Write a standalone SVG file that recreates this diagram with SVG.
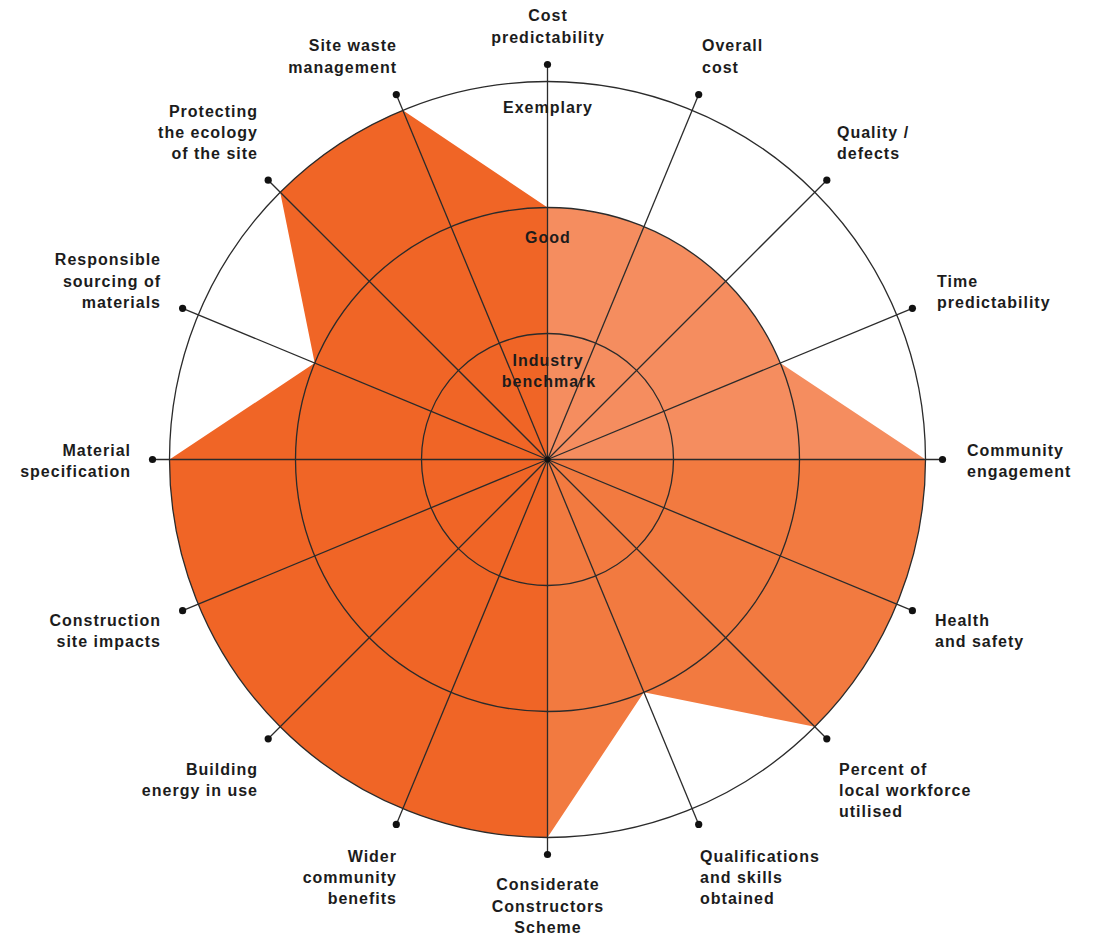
<svg xmlns="http://www.w3.org/2000/svg" width="1097" height="937" viewBox="0 0 1097 937">
<style>
.lbl{font-family:"Liberation Sans",Arial,sans-serif;font-weight:bold;font-size:16px;letter-spacing:1px;fill:#1c1c1c}
.mid{text-anchor:middle}
.end{text-anchor:end}
.ring{fill:none;stroke:#2b2b2b;stroke-width:1.3}
.spoke{stroke:#2b2b2b;stroke-width:1.3}
.dot{fill:#111}
</style>
<rect width="1097" height="937" fill="#ffffff"/>
<g id="fills">
<path d="M547.5,459.5 L547.5,207.5 A252,252 0 0 1 780.3,363.1 L925.5,459.5 Z" fill="#F58D5F"/>
<path d="M547.5,459.5 L925.5,459.5 A378,378 0 0 1 814.8,726.8 L643.9,692.3 L547.5,837.5 Z" fill="#F27A40"/>
<path d="M547.5,459.5 L547.5,837.5 A378,378 0 0 1 169.5,459.5 L314.7,363.1 L280.2,192.2 A378,378 0 0 1 402.8,110.3 L547.5,207.5 Z" fill="#F06526"/>
</g>
<g id="rings">
<circle class="ring" cx="547.5" cy="459.5" r="126"/>
<circle class="ring" cx="547.5" cy="459.5" r="252"/>
<circle class="ring" cx="547.5" cy="459.5" r="378"/>
</g>
<g id="connectors">
<line class="spoke" x1="547.5" y1="459.5" x2="547.5" y2="64.5"/>
<line class="spoke" x1="547.5" y1="459.5" x2="698.7" y2="94.6"/>
<line class="spoke" x1="547.5" y1="459.5" x2="826.8" y2="180.2"/>
<line class="spoke" x1="547.5" y1="459.5" x2="912.4" y2="308.3"/>
<line class="spoke" x1="547.5" y1="459.5" x2="942.5" y2="459.5"/>
<line class="spoke" x1="547.5" y1="459.5" x2="912.4" y2="610.7"/>
<line class="spoke" x1="547.5" y1="459.5" x2="826.8" y2="738.8"/>
<line class="spoke" x1="547.5" y1="459.5" x2="698.7" y2="824.4"/>
<line class="spoke" x1="547.5" y1="459.5" x2="547.5" y2="854.5"/>
<line class="spoke" x1="547.5" y1="459.5" x2="396.3" y2="824.4"/>
<line class="spoke" x1="547.5" y1="459.5" x2="268.2" y2="738.8"/>
<line class="spoke" x1="547.5" y1="459.5" x2="182.6" y2="610.7"/>
<line class="spoke" x1="547.5" y1="459.5" x2="152.5" y2="459.5"/>
<line class="spoke" x1="547.5" y1="459.5" x2="182.6" y2="308.3"/>
<line class="spoke" x1="547.5" y1="459.5" x2="268.2" y2="180.2"/>
<line class="spoke" x1="547.5" y1="459.5" x2="396.3" y2="94.6"/>
<circle class="dot" cx="547.5" cy="459.5" r="3"/>
</g>
<g id="levels">
<text class="lbl mid" x="548" y="113">Exemplary</text>
<text class="lbl mid" x="548" y="243">Good</text>
<text class="lbl mid" x="548" y="366">Industry</text>
<text class="lbl mid" x="549" y="387">benchmark</text>
</g>
<g id="cost-predictability"><circle class="dot" cx="547.5" cy="64.5" r="3.6"/><text class="lbl mid" x="548" y="21">Cost</text><text class="lbl mid" x="548" y="43">predictability</text></g>
<g id="overall-cost"><circle class="dot" cx="698.7" cy="94.6" r="3.6"/><text class="lbl" x="702" y="51">Overall</text><text class="lbl" x="702" y="73">cost</text></g>
<g id="quality-defects"><circle class="dot" cx="826.8" cy="180.2" r="3.6"/><text class="lbl" x="837" y="138">Quality /</text><text class="lbl" x="837" y="159">defects</text></g>
<g id="time-predictability"><circle class="dot" cx="912.4" cy="308.3" r="3.6"/><text class="lbl" x="937" y="287">Time</text><text class="lbl" x="937" y="308">predictability</text></g>
<g id="community-engagement"><circle class="dot" cx="942.5" cy="459.5" r="3.6"/><text class="lbl" x="967" y="456">Community</text><text class="lbl" x="967" y="477">engagement</text></g>
<g id="health-safety"><circle class="dot" cx="912.4" cy="610.7" r="3.6"/><text class="lbl" x="935" y="626">Health</text><text class="lbl" x="935" y="647">and safety</text></g>
<g id="local-workforce"><circle class="dot" cx="826.8" cy="738.8" r="3.6"/><text class="lbl" x="839" y="775">Percent of</text><text class="lbl" x="839" y="796">local workforce</text><text class="lbl" x="839" y="817">utilised</text></g>
<g id="qualifications"><circle class="dot" cx="698.7" cy="824.4" r="3.6"/><text class="lbl" x="700" y="862">Qualifications</text><text class="lbl" x="700" y="883">and skills</text><text class="lbl" x="700" y="904">obtained</text></g>
<g id="considerate-constructors"><circle class="dot" cx="547.5" cy="854.5" r="3.6"/><text class="lbl mid" x="548" y="890">Considerate</text><text class="lbl mid" x="548" y="912">Constructors</text><text class="lbl mid" x="548" y="933">Scheme</text></g>
<g id="wider-community"><circle class="dot" cx="396.3" cy="824.4" r="3.6"/><text class="lbl end" x="397" y="862">Wider</text><text class="lbl end" x="397" y="883">community</text><text class="lbl end" x="397" y="904">benefits</text></g>
<g id="building-energy"><circle class="dot" cx="268.2" cy="738.8" r="3.6"/><text class="lbl end" x="258" y="775">Building</text><text class="lbl end" x="258" y="796">energy in use</text></g>
<g id="construction-site"><circle class="dot" cx="182.6" cy="610.7" r="3.6"/><text class="lbl end" x="161" y="626">Construction</text><text class="lbl end" x="161" y="647">site impacts</text></g>
<g id="material-specification"><circle class="dot" cx="152.5" cy="459.5" r="3.6"/><text class="lbl end" x="131" y="456">Material</text><text class="lbl end" x="131" y="477">specification</text></g>
<g id="responsible-sourcing"><circle class="dot" cx="182.6" cy="308.3" r="3.6"/><text class="lbl end" x="161" y="265">Responsible</text><text class="lbl end" x="161" y="287">sourcing of</text><text class="lbl end" x="161" y="308">materials</text></g>
<g id="protecting-ecology"><circle class="dot" cx="268.2" cy="180.2" r="3.6"/><text class="lbl end" x="258" y="117">Protecting</text><text class="lbl end" x="258" y="138">the ecology</text><text class="lbl end" x="258" y="159">of the site</text></g>
<g id="site-waste"><circle class="dot" cx="396.3" cy="94.6" r="3.6"/><text class="lbl end" x="397" y="51">Site waste</text><text class="lbl end" x="397" y="73">management</text></g>
</svg>
